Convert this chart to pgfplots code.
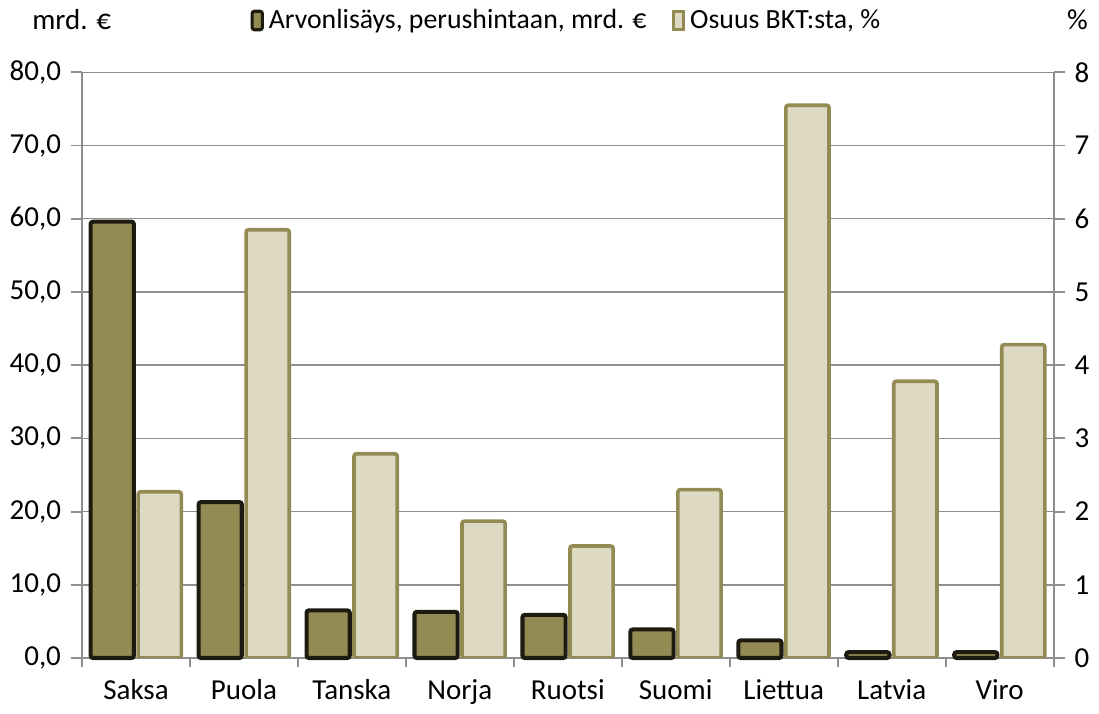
\documentclass[border=0pt]{standalone}
\usepackage{pgfplots}
\usepackage{pgfplotstable}
\pgfplotsset{compat=1.18}
\usepackage{fontspec}
\setmainfont{Carlito}
\definecolor{darkfill}{HTML}{948A54}
\definecolor{darkedge}{HTML}{1D1B10}
\definecolor{lightfill}{HTML}{DDD9C3}
\definecolor{lightedge}{HTML}{948A54}
\definecolor{gridgray}{HTML}{8E8E8E}
\pgfplotstableread{
x name val pct
0 Saksa 59.6 2.27
1 Puola 21.3 5.85
2 Tanska 6.5 2.79
3 Norja 6.3 1.87
4 Ruotsi 5.9 1.53
5 Suomi 3.9 2.30
6 Liettua 2.4 7.55
7 Latvia 0.8 3.78
8 Viro 0.8 4.28
}\data
\begin{document}
\fontsize{12}{14}\selectfont
\begin{tikzpicture}
\begin{axis}[
  scale only axis, width=14.15cm, height=8.53cm, clip=false,
  xmin=-0.5, xmax=8.5, ymin=0, ymax=80,
  axis y line*=left, axis x line*=bottom,
  axis line style={draw=gridgray, line width=0.8pt},
  ytick={0,10,...,80},
  ymajorgrids, grid style={gridgray, line width=0.6pt},
  yticklabel style={/pgf/number format/.cd, fixed, fixed zerofill, precision=1, use comma, assume math mode=true},
  xtick={0,...,8},
  xticklabels={Saksa,Puola,Tanska,Norja,Ruotsi,Suomi,Liettua,Latvia,Viro},
  minor xtick={-0.5,0.5,...,8.5},
  major x tick style={draw=none},
  tick align=outside,
  tick style={gridgray, line width=0.8pt},
  major tick length=0.16cm, minor tick length=0.13cm,
  ybar, bar width=0.4,
  legend style={at={(0.5,1)}, anchor=south, yshift=0.42cm, draw=none, legend columns=2,
    font=\fontsize{11.5}{13}\selectfont,
    /tikz/every even column/.append style={column sep=0.3cm}},
]
\addplot[bar shift=-0.22, fill=darkfill, draw=darkedge, line width=1.7pt, rounded corners=1pt,
  legend image code/.code={\draw[fill=darkfill, draw=darkedge, line width=1.3pt] (0cm,-0.12cm) rectangle (0.15cm,0.15cm);}]
  table[x=x,y=val]{\data};
\addlegendentry{Arvonlisäys, perushintaan, mrd. €}
\addlegendimage{legend image code/.code={\draw[fill=lightfill, draw=lightedge, line width=1.3pt] (0cm,-0.12cm) rectangle (0.15cm,0.15cm);}}
\addlegendentry{Osuus BKT:sta, \%}
\node[anchor=base] at ([xshift=-0.15cm, yshift=0.62cm]rel axis cs:0,1) {mrd. €};
\node[anchor=base] at ([xshift=0.35cm, yshift=0.62cm]rel axis cs:1,1) {\%};
\end{axis}
\begin{axis}[
  scale only axis, width=14.15cm, height=8.53cm,
  xmin=-0.5, xmax=8.5, ymin=0, ymax=8,
  axis y line*=right, axis x line=none,
  axis line style={draw=gridgray, line width=0.8pt},
  ytick={0,...,8},
  yticklabel style={/pgf/number format/assume math mode=true},
  tick align=outside,
  tick style={gridgray, line width=0.8pt},
  major tick length=0.16cm,
  ybar, bar width=0.4,
]
\addplot[bar shift=0.22, fill=lightfill, draw=lightedge, line width=1.5pt, rounded corners=1pt]
  table[x=x,y=pct]{\data};
\end{axis}
\end{tikzpicture}
\end{document}
